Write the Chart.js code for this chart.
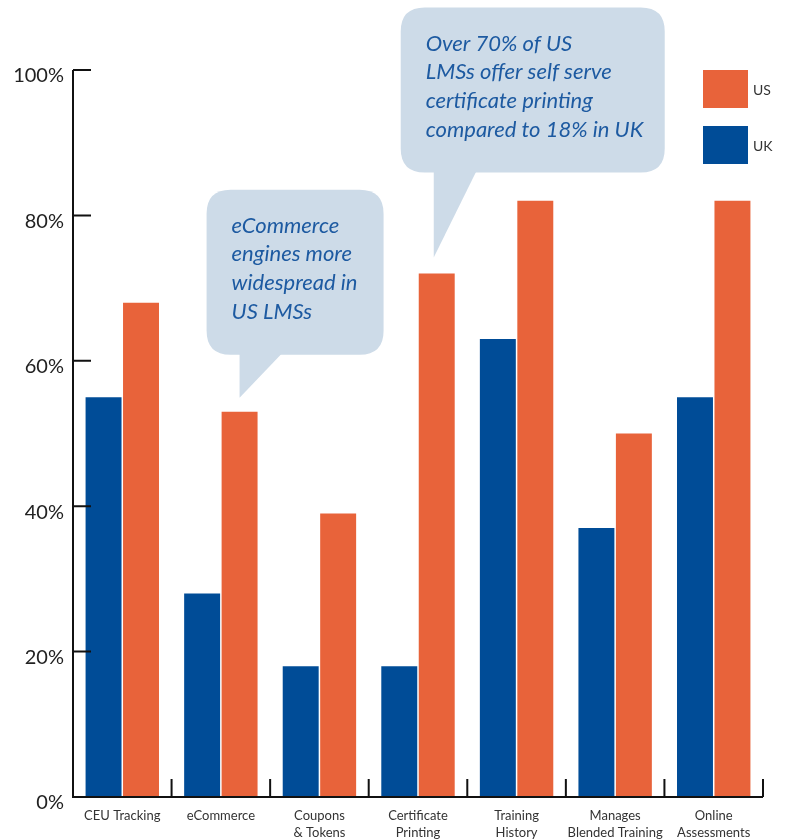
<!DOCTYPE html>
<html>
<head>
<meta charset="utf-8">
<script src="https://cdn.jsdelivr.net/npm/chart.js@4/dist/chart.umd.min.js"></script>
<style>
  html, body { margin: 0; padding: 0; background: #fff; }
  #wrap { width: 785px; height: 839px; }
</style>
</head>
<body>
<div id="wrap"><canvas id="chart" width="785" height="839"></canvas></div>
<script>
// data
const categories = [
  ['CEU Tracking'],
  ['eCommerce'],
  ['Coupons', '& Tokens'],
  ['Certificate', 'Printing'],
  ['Training', 'History'],
  ['Manages', 'Blended Training'],
  ['Online', 'Assessments'],
];
const ukValues = [55, 28, 18, 18, 63, 37, 55];
const usValues = [68, 53, 39, 72, 82, 50, 82];
const yTicks = [0, 20, 40, 60, 80, 100];

const calloutEcommerce = ['eCommerce', 'engines more', 'widespread in', 'US LMSs'];
const calloutCertificate = ['Over 70% of US', 'LMSs offer self serve', 'certificate printing', 'compared to 18% in UK'];

const BLUE = '#004c97';
const ORANGE = '#e8633a';
const BUBBLE = '#cddbe8';
const BUBBLE_TEXT = '#1d5aa1';

function roundRect(ctx, x, y, w, h, r) {
  ctx.moveTo(x + r, y);
  ctx.lineTo(x + w - r, y);
  ctx.quadraticCurveTo(x + w, y, x + w, y + r);
  ctx.lineTo(x + w, y + h - r);
  ctx.quadraticCurveTo(x + w, y + h, x + w - r, y + h);
  ctx.lineTo(x + r, y + h);
  ctx.quadraticCurveTo(x, y + h, x, y + h - r);
  ctx.lineTo(x, y + r);
  ctx.quadraticCurveTo(x, y, x + r, y);
  ctx.closePath();
}

// axis lines, inward ticks and category dividers
const axesPlugin = {
  id: 'axes',
  afterDraw(chart) {
    const { ctx, chartArea, scales } = chart;
    const x = scales.x, y = scales.y;
    ctx.save();
    ctx.strokeStyle = '#111';
    ctx.lineWidth = 2;
    ctx.beginPath();
    ctx.moveTo(chartArea.left, chartArea.top);
    ctx.lineTo(chartArea.left, chartArea.bottom);
    ctx.lineTo(chartArea.right, chartArea.bottom);
    // y ticks pointing right
    yTicks.forEach(v => {
      const py = y.getPixelForValue(v);
      ctx.moveTo(chartArea.left, py);
      ctx.lineTo(chartArea.left + 18, py);
    });
    // dividers between categories pointing up
    const step = x.getPixelForValue(1) - x.getPixelForValue(0);
    for (let i = 0; i < categories.length; i++) {
      const px = x.getPixelForValue(i) + step / 2;
      ctx.moveTo(px, chartArea.bottom);
      ctx.lineTo(px, chartArea.bottom - 18);
    }
    ctx.stroke();
    ctx.restore();
  }
};

// speech bubbles pointing at the US bars
const calloutPlugin = {
  id: 'callouts',
  afterDatasetsDraw(chart) {
    const { ctx } = chart;
    const items = [
      { index: 1, lines: calloutEcommerce, width: 177, gap: 14, rise: 208, shift: 0 },
      { index: 3, lines: calloutCertificate, width: 264, gap: 16, rise: 250, shift: -3 },
    ];
    ctx.save();
    items.forEach(c => {
      const bar = chart.getDatasetMeta(1).data[c.index];
      const tipX = bar.x + c.shift, tipY = bar.y - c.gap;
      const left = tipX - 33, top = tipY - c.rise, h = 165;
      ctx.fillStyle = BUBBLE;
      ctx.beginPath();
      roundRect(ctx, left, top, c.width, h, 24);
      ctx.fill();
      ctx.beginPath();
      ctx.moveTo(tipX, top + h - 2);
      ctx.lineTo(tipX + 43, top + h - 2);
      ctx.lineTo(tipX, tipY);
      ctx.closePath();
      ctx.fill();
      ctx.fillStyle = BUBBLE_TEXT;
      ctx.font = 'italic 22px Lato';
      ctx.textBaseline = 'middle';
      ctx.textAlign = 'left';
      c.lines.forEach((line, i) => {
        ctx.fillText(line, left + 25, top + 36 + i * 28.7);
      });
    });
    ctx.restore();
  }
};

// square swatch legend at the top right
const legendPlugin = {
  id: 'squareLegend',
  afterDraw(chart) {
    const { ctx } = chart;
    const order = [1, 0];
    ctx.save();
    ctx.font = '14px Lato';
    ctx.textBaseline = 'middle';
    ctx.textAlign = 'left';
    order.forEach((di, i) => {
      const ds = chart.data.datasets[di];
      const top = 70 + i * 56;
      ctx.fillStyle = ds.backgroundColor;
      ctx.fillRect(703, top, 45, 38);
      ctx.fillStyle = '#333';
      ctx.fillText(ds.label, 753, top + 20);
    });
    ctx.restore();
  }
};

new Chart(document.getElementById('chart'), {
  type: 'bar',
  data: {
    labels: categories,
    datasets: [
      { label: 'UK', data: ukValues, backgroundColor: BLUE, categoryPercentage: 0.76, barPercentage: 0.96 },
      { label: 'US', data: usValues, backgroundColor: ORANGE, categoryPercentage: 0.76, barPercentage: 0.96 },
    ],
  },
  options: {
    responsive: false,
    animation: false,
    layout: { padding: { top: 70, right: 22, left: 0, bottom: 0 } },
    plugins: {
      legend: { display: false },
      tooltip: { enabled: false },
    },
    scales: {
      x: {
        grid: { display: false, drawTicks: false },
        border: { display: false },
        ticks: {
          autoSkip: false,
          maxRotation: 0,
          padding: 11,
          color: '#333',
          font: { family: 'Lato', size: 13, lineHeight: 1.25 },
        },
        afterFit: s => { s.height = 42; },
      },
      y: {
        min: 0,
        max: 100,
        grid: { display: false, drawTicks: false },
        border: { display: false },
        afterBuildTicks: s => { s.ticks = yTicks.map(v => ({ value: v })); },
        ticks: {
          callback: v => v + '%',
          padding: 9,
          labelOffset: 6,
          color: '#222',
          font: { family: 'Lato', size: 20 },
        },
        afterFit: s => { s.width = 73; },
      },
    },
  },
  plugins: [axesPlugin, calloutPlugin, legendPlugin],
});
</script>
</body>
</html>
